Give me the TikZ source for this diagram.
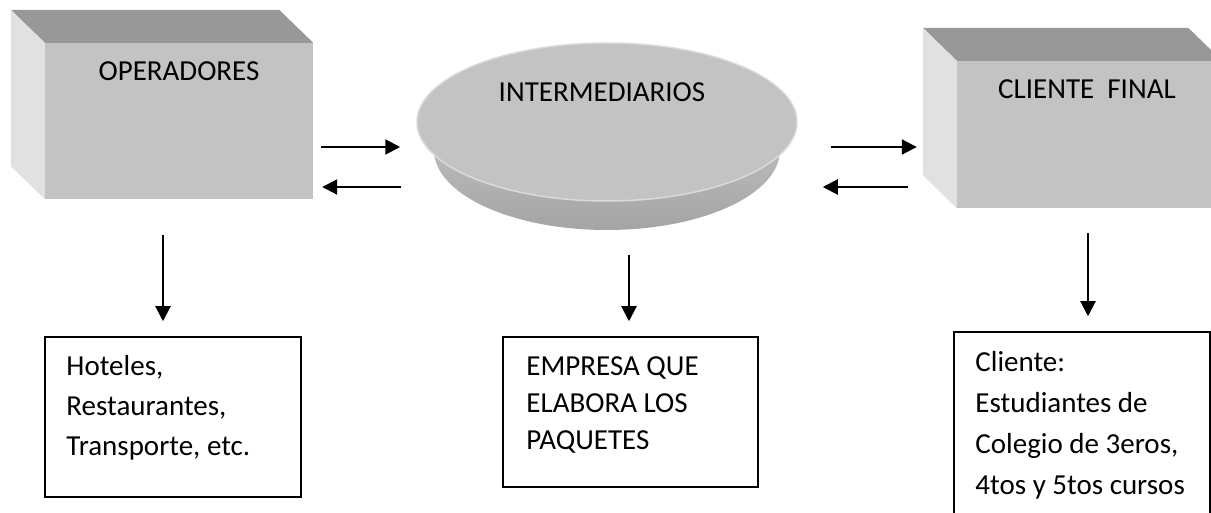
\documentclass[tikz,border=0pt]{standalone}
\usepackage{fontspec}
\setmainfont{Carlito}
\usetikzlibrary{arrows.meta,shapes.geometric,positioning}
\definecolor{frontgray}{HTML}{C3C3C3}
\definecolor{topgray}{HTML}{989898}
\definecolor{sidegray}{HTML}{E1E1E1}
\definecolor{rimgray}{HTML}{DADADA}
\definecolor{basetop}{HTML}{D0D0D0}
\definecolor{basebot}{HTML}{A4A4A4}
\tikzstyle{frontface}=[rectangle,fill=frontgray,inner sep=0pt]
\tikzstyle{topface}=[fill=topgray]
\tikzstyle{sideface}=[fill=sidegray]
\tikzstyle{disc}=[ellipse,fill=frontgray,draw=rimgray,line width=1.5pt,inner sep=0pt]
\tikzstyle{discbase}=[ellipse,top color=basetop,bottom color=basebot,inner sep=0pt]
\tikzstyle{outbox}=[rectangle,draw,line width=1.5pt,inner sep=0pt]
\tikzstyle{headtext}=[font=\fontsize{29}{35}\selectfont,inner sep=0pt]
\tikzstyle{listtext}=[font=\fontsize{29}{40}\selectfont,inner sep=0pt,anchor=base west]
\tikzstyle{flow}=[draw,line width=2pt,-{Triangle[length=15pt,width=15pt]}]

\begin{document}
\begin{tikzpicture}[x=1pt,y=1pt]
\useasboundingbox (0,0) rectangle (1211,512);
\clip (0,0) rectangle (1211,512);

% First the front faces of the boxes, then their top and left faces
\node[frontface,minimum width=268pt,minimum height=156pt] (operadores) at (179,391) {};
\node[frontface,minimum width=265pt,minimum height=147pt] (cliente) at (1089.5,377.5) {};
\foreach \name in {operadores,cliente} {
  \fill[topface] (\name.north west) -- ++(-34,33) -- ([shift={(-34,33)}]\name.north east) -- (\name.north east) -- cycle;
  \fill[sideface] (\name.north west) -- ++(-34,33) -- ([shift={(-34,33)}]\name.south west) -- (\name.south west) -- cycle;
}

% The disc in the middle
\node[discbase,minimum width=346pt,minimum height=160pt] (interbase) at (607,362) {};
\node[disc,minimum width=380pt,minimum height=158pt] (inter) at (607,390) {};

% Titles
\node[headtext,below=38pt of operadores.north,anchor=base] (operadorestxt) {OPERADORES};
\node[headtext,anchor=base] (intertxt) at ([shift={(-5,20)}]inter.center) {INTERMEDIARIOS};
\node[headtext,below=38pt of cliente.north,anchor=base,xshift=-2.5pt] (clientetxt) {CLIENTE\ \ FINAL};

% Boxes below
\node[outbox,minimum width=256pt,minimum height=160pt] (hoteles) at (173,95) {};
\node[outbox,minimum width=255pt,minimum height=150pt] (paquetes) at (630.5,100) {};
\node[outbox,minimum width=256pt,minimum height=200pt] (estudiantes) at (1082,80) {};

\node[listtext] (hotelestxt) at ([shift={(22,-39)}]hoteles.north west)
  {\parbox[t]{230pt}{\raggedright Hoteles,\\Restaurantes,\\Transporte, etc.}};
\node[listtext] (paquetestxt) at ([shift={(24,-39)}]paquetes.north west)
  {\parbox[t]{228pt}{\raggedright\baselineskip=37pt EMPRESA QUE\\ELABORA LOS\\PAQUETES}};
\node[listtext] (estudiantestxt) at ([shift={(22,-40)}]estudiantes.north west)
  {\parbox[t]{234pt}{\raggedright\baselineskip=41pt Cliente:\\Estudiantes de\\Colegio de 3eros,\\4tos y 5tos cursos}};

% Arrows between the three
\draw[flow] ([shift={(8,-26)}]operadores.east) -- ([shift={(-16,-25)}]inter.west);
\draw[flow] ([shift={(-15,-65)}]inter.west) -- ([shift={(9,-66)}]operadores.east);
\draw[flow] ([shift={(33,-25)}]inter.east) -- ([shift={(-40,-12.5)}]cliente.west);
\draw[flow] ([shift={(-49,-52.5)}]cliente.west) -- ([shift={(25,-65)}]inter.east);

% Arrows down
\draw[flow] ([shift={(-16,-36)}]operadores.south) -- ([shift={(-10,15)}]hoteles.north);
\draw[flow] ([shift={(22,-25)}]interbase.south) -- ([shift={(-1.5,15)}]paquetes.north);
\draw[flow] ([shift={(-1.5,-25)}]cliente.south) -- ([shift={(6,15)}]estudiantes.north);

\end{tikzpicture}
\end{document}
